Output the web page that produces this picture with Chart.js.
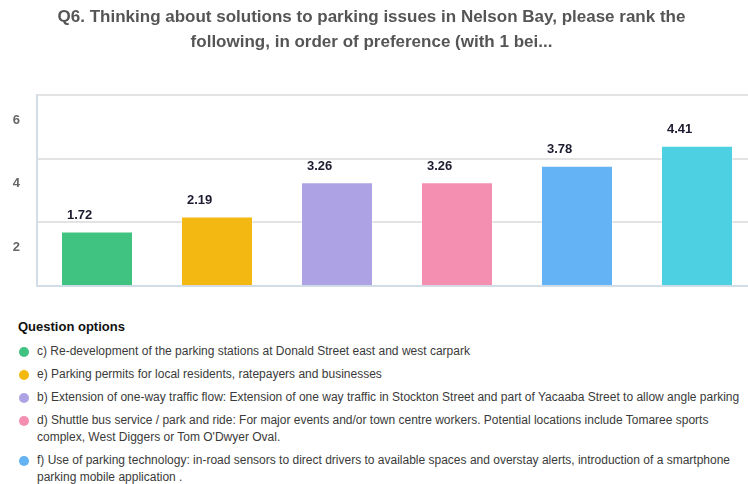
<!DOCTYPE html>
<html lang="en">
  <head>
    <meta charset="UTF-8" />
    <title>Q6 Parking solutions ranking</title>
    <script src="https://cdn.jsdelivr.net/npm/chart.js"></script>
    <style>
      html, body {
        margin: 0;
        padding: 0;
        background: #ffffff;
        overflow: hidden;
      }
      #page {
        position: relative;
        width: 748px;
        height: 484px;
        overflow: hidden;
        font-family: "Liberation Sans", Arial, sans-serif;
      }
      #chartBox {
        position: absolute;
        left: -14px;
        top: 0;
        width: 771px;
        height: 311px;
      }
      #legend {
        position: absolute;
        left: 18px;
        top: 317px;
        width: 728px;
      }
      #legend h3 {
        margin: 0 0 6px 0;
        font-size: 13px;
        line-height: 20px;
        font-weight: bold;
        color: #111111;
      }
      .item {
        position: relative;
        padding-left: 19px;
        margin-bottom: 6px;
        font-size: 12px;
        line-height: 17px;
        color: #3a3a3a;
      }
      .dot {
        position: absolute;
        left: 1px;
        top: 4px;
        width: 10px;
        height: 10px;
        border-radius: 50%;
      }
    </style>
  </head>
  <body>
    <div id="page">
      <div id="chartBox"><canvas id="rankChart"></canvas></div>
      <div id="legend">
        <h3>Question options</h3>
        <div id="legendItems"></div>
      </div>
    </div>

    <script>
      // values
      const categories = ["c)", "e)", "b)", "d)", "f)", "a)"];
      const scores = [1.72, 2.19, 3.26, 3.26, 3.78, 4.41];
      const barColors = ["#40c380", "#f3b912", "#ada3e4", "#f48fb1", "#63b3f5", "#4dd0e1"];
      const yTicks = [2, 4, 6];
      const titleLines = [
        "Q6. Thinking about solutions to parking issues in Nelson Bay, please rank the",
        "following, in order of preference (with 1 bei..."
      ];
      const optionTexts = [
        "c) Re-development of the parking stations at Donald Street east and west carpark",
        "e) Parking permits for local residents, ratepayers and businesses",
        "b) Extension of one-way traffic flow: Extension of one way traffic in Stockton Street and part of Yacaaba Street to allow angle parking",
        "d) Shuttle bus service / park and ride: For major events and/or town centre workers. Potential locations include Tomaree sports complex, West Diggers or Tom O'Dwyer Oval.",
        "f) Use of parking technology: in-road sensors to direct drivers to available spaces and overstay alerts, introduction of a smartphone parking mobile application ."
      ];

      // legend list under the chart
      const legendBox = document.getElementById("legendItems");
      optionTexts.forEach((text, i) => {
        const row = document.createElement("div");
        row.className = "item";
        const dot = document.createElement("span");
        dot.className = "dot";
        dot.style.background = barColors[i];
        row.appendChild(dot);
        row.appendChild(document.createTextNode(text));
        legendBox.appendChild(row);
      });

      // value labels above each bar
      const valueLabels = {
        id: "valueLabels",
        afterDatasetsDraw(chart) {
          const ctx = chart.ctx;
          const meta = chart.getDatasetMeta(0);
          ctx.save();
          ctx.font = "bold 13px 'Liberation Sans', Arial, sans-serif";
          ctx.fillStyle = "#1c1c30";
          ctx.textAlign = "left";
          ctx.textBaseline = "middle";
          meta.data.forEach((bar, i) => {
            const left = bar.x - bar.width / 2;
            ctx.fillText(scores[i].toFixed(2), left + 6, bar.y - 16);
          });
          ctx.restore();
        }
      };

      new Chart(document.getElementById("rankChart"), {
        type: "bar",
        data: {
          labels: categories,
          datasets: [
            {
              data: scores,
              backgroundColor: barColors,
              borderColor: "rgba(255,255,255,0.45)",
              borderWidth: 1,
              categoryPercentage: 1,
              barPercentage: 0.6
            }
          ]
        },
        options: {
          responsive: true,
          maintainAspectRatio: false,
          animation: false,
          layout: { padding: { left: 0, right: 0, top: 0, bottom: 4 } },
          plugins: {
            legend: { display: false },
            tooltip: { enabled: false },
            title: {
              display: true,
              text: titleLines,
              color: "#555555",
              font: { family: "'Liberation Sans', Arial, sans-serif", size: 17, weight: "bold", lineHeight: 25 / 17 },
              padding: { top: 5, bottom: 40 }
            }
          },
          scales: {
            x: {
              grid: { display: false },
              ticks: { display: false },
              border: { color: "#d3dde8", width: 2 }
            },
            y: {
              min: 0,
              max: 6,
              afterFit: (scale) => { scale.width = 51; },
              afterBuildTicks: (scale) => {
                scale.ticks = [0].concat(yTicks).map((v) => ({ value: v }));
              },
              ticks: {
                padding: 17,
                labelOffset: 25,
                color: "#666666",
                font: { family: "'Liberation Sans', Arial, sans-serif", size: 13, weight: "bold" },
                callback: (v) => (yTicks.includes(v) ? v : "")
              },
              grid: { color: "#e3e3e3", lineWidth: 2, drawTicks: false },
              border: { color: "#d3dde8", width: 2 }
            }
          }
        },
        plugins: [valueLabels]
      });
    </script>
  </body>
</html>
